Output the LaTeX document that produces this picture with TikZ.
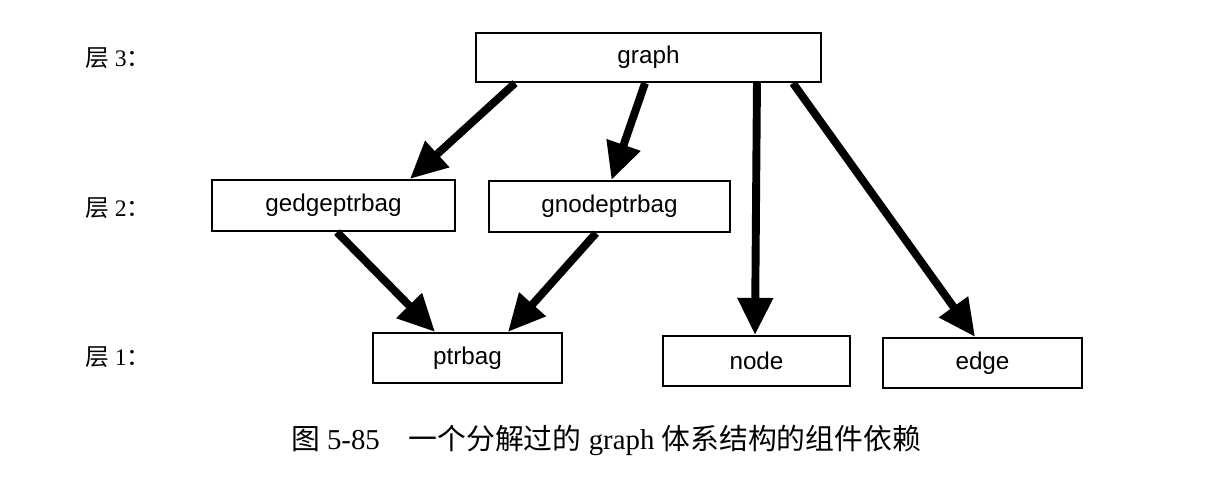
\documentclass[tikz,border=0pt]{standalone}
\usepackage{fontspec}
\usepackage{tikz}
\usetikzlibrary{arrows.meta}
\setmainfont{Liberation Serif}
\newfontfamily\boxfont{Liberation Sans}
\newfontfamily\cjk{Noto Sans CJK SC}

\begin{document}
\begin{tikzpicture}[x=0.02cm, y=-0.02cm,
        box/.style={draw, line width=1.3pt, inner sep=0pt, minimum height=1cm,
            font=\boxfont\fontsize{13.8}{16}\selectfont},
        dep/.style={line width=4.5pt, -{Triangle[length=0.74cm, width=0.68cm]}},
        layer/.style={anchor=west, inner sep=0pt, font=\fontsize{13.5}{16}\selectfont}]
        \useasboundingbox (0,0) rectangle (1208,498);
        \node[box, minimum width=6.9cm, minimum height=0.98cm] (graph) at (648.5,57.5) {graph};
        \node[box, minimum width=4.86cm, minimum height=1.02cm] (gedgeptrbag) at (333.5,205.5) {gedgeptrbag};
        \node[box, minimum width=4.82cm, minimum height=1.02cm] (gnodeptrbag) at (609.5,206.5) {gnodeptrbag};
        \node[box, minimum width=3.78cm] (ptrbag) at (467.5,358) {ptrbag};
        \node[box, minimum width=3.74cm] (node) at (756.5,361) {node};
        \node[box, minimum width=3.98cm] (edge) at (982.5,363) {edge};
        \node[layer] (lay3) at (85,58) {{\cjk 层} 3{\cjk ：}};
        \node[layer] (lay2) at (85,208) {{\cjk 层} 2{\cjk ：}};
        \node[layer] (lay1) at (85,357) {{\cjk 层} 1{\cjk ：}};
        \draw[dep] ([xshift=-2.67cm]graph.south) -- ([xshift=1.53cm]gedgeptrbag.north);
        \draw[dep] ([xshift=-0.07cm]graph.south) -- ([xshift=0.04cm]gnodeptrbag.north);
        \draw[dep] ([xshift=2.17cm]graph.south) -- ([xshift=-0.03cm]node.north);
        \draw[dep] ([xshift=2.89cm]graph.south) -- ([xshift=-0.15cm]edge.north);
        \draw[dep] ([xshift=0.07cm]gedgeptrbag.south) -- ([xshift=-0.65cm]ptrbag.north);
        \draw[dep] ([xshift=-0.27cm]gnodeptrbag.south) -- ([xshift=0.81cm]ptrbag.north);
        \node[font=\fontsize{16.4}{19}\selectfont] (caption) at (606,440)
            {{\cjk 图} 5-85\quad{\cjk 一个分解过的} graph {\cjk 体系结构的组件依赖}};
    \end{tikzpicture}
\end{document}
